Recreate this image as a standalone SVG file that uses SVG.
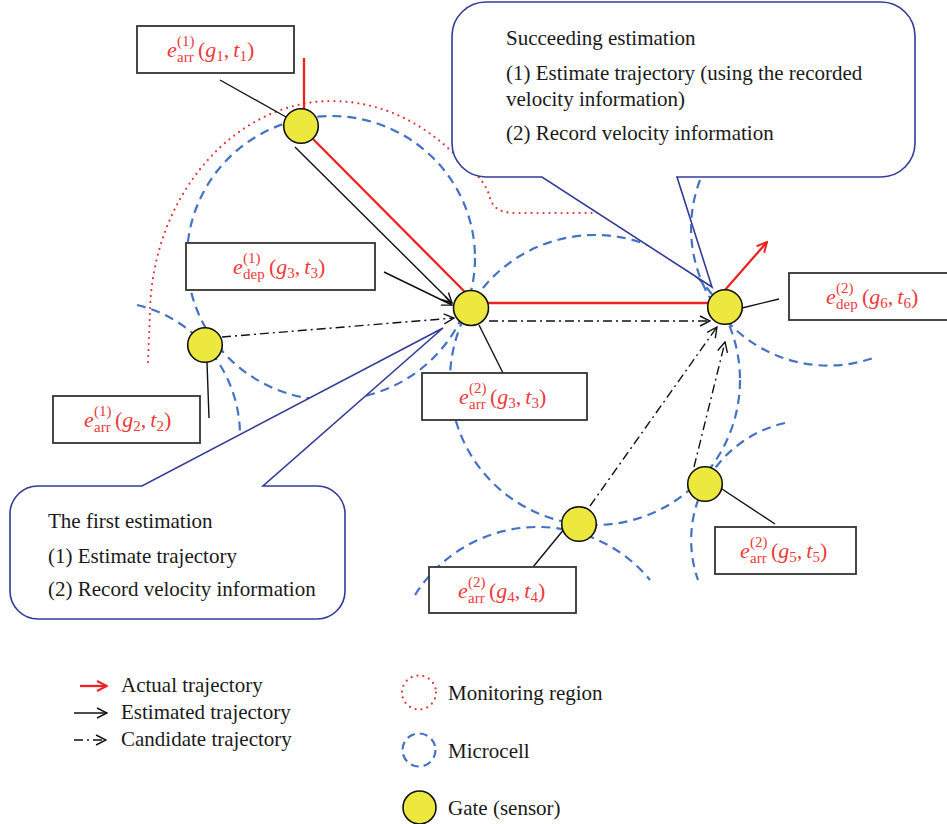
<svg xmlns="http://www.w3.org/2000/svg" width="947" height="824" viewBox="0 0 947 824">
<style>
  .txt { font-family: "Liberation Serif", "DejaVu Serif", serif; font-size: 21px; fill: #1a1a1a; }
  .lbl { font-family: "Liberation Serif", "DejaVu Serif", serif; font-size: 22px; fill: #ee3a3a; }
  .it { font-style: italic; }
  .sc { font-size: 15px; }
  .box { fill: #ffffff; stroke: #333333; stroke-width: 1.8; }
  .cell { fill: none; stroke: #4472c4; stroke-width: 2.2; stroke-dasharray: 9 6; }
  .mon { fill: none; stroke: #e03030; stroke-width: 2.2; stroke-dasharray: 0 6; stroke-linecap: round; }
  .callout { fill: #ffffff; stroke: #333b96; stroke-width: 1.6; stroke-linejoin: miter; }
  .act { fill: none; stroke: #ee2222; stroke-width: 2.3; }
  .est { fill: none; stroke: #111111; stroke-width: 1.4; }
  .cand { fill: none; stroke: #111111; stroke-width: 1.4; stroke-dasharray: 9 4 2 4; }
  .lead { fill: none; stroke: #111111; stroke-width: 1.4; }
  .gate { fill: #ece83e; stroke: #111111; stroke-width: 1.6; }
</style>
<defs>
  <marker id="ahR" viewBox="0 0 12 12" refX="11" refY="6" markerWidth="12" markerHeight="12" markerUnits="userSpaceOnUse" orient="auto">
    <path d="M1,1 L11,6 L1,11" fill="none" stroke="#ee2222" stroke-width="2" stroke-dasharray="none"/>
  </marker>
  <marker id="ahK" viewBox="0 0 12 12" refX="11" refY="6" markerWidth="12" markerHeight="12" markerUnits="userSpaceOnUse" orient="auto">
    <path d="M1,1 L11,6 L1,11" fill="none" stroke="#111111" stroke-width="1.4" stroke-dasharray="none"/>
  </marker>
</defs>
<rect x="0" y="0" width="947" height="824" fill="#ffffff"/>

<!-- regions: microcells and monitoring region -->
<g id="regions">
  <ellipse class="cell" cx="331" cy="258" rx="144" ry="142"/>
  <circle class="cell" cx="595" cy="380" r="145"/>
  <path class="cell" d="M785,423 A120,120 0 0 0 698,580"/>
  <path class="cell" d="M415,595 A145,145 0 0 1 650,580"/>
  <path class="cell" d="M137,305 A134,134 0 0 1 240,434"/>
  <path class="mon" d="M148,362 L150,312 C152,200 230,103 330,101 C380,101 420,122 450,150 C474,170 487,184 490,198 Q494,213 515,213 L598,213"/>
</g>

<!-- callouts -->
<g id="callout-succeeding">
  <path class="callout" d="M486,2 H881 A34,34 0 0 1 915,36 V143 A34,34 0 0 1 881,177 H677 L712,287 L542,177 H486 A34,34 0 0 1 452,143 V36 A34,34 0 0 1 486,2 Z"/>
  <text class="txt" x="506" y="45">Succeeding estimation</text>
  <text class="txt" x="506" y="80">(1) Estimate trajectory (using the recorded</text>
  <text class="txt" x="506" y="106">velocity information)</text>
  <text class="txt" x="506" y="140">(2) Record velocity information</text>
</g>
<g id="callout-first">
  <path class="callout" d="M38,486 H142 L443,328 L263,486 H317 A28,28 0 0 1 345,514 V591 A28,28 0 0 1 317,619 H38 A28,28 0 0 1 10,591 V514 A28,28 0 0 1 38,486 Z"/>
  <text class="txt" x="48" y="528">The first estimation</text>
  <text class="txt" x="48" y="563">(1) Estimate trajectory</text>
  <text class="txt" x="48" y="596">(2) Record velocity information</text>
</g>

<g id="region-top">
  <path class="cell" d="M700,180 A137,137 0 0 0 873,358"/>
</g>

<!-- connectors -->
<g id="connectors">
  <line class="act" x1="304" y1="58" x2="304" y2="110"/>
  <line class="act" x1="313" y1="139" x2="465" y2="292"/>
  <line class="act" x1="488" y1="303" x2="709" y2="303"/>
  <line class="act" x1="725" y1="290" x2="767" y2="242" marker-end="url(#ahR)"/>

  <line class="est" x1="295" y1="147" x2="452" y2="303" marker-end="url(#ahK)"/>
  <line class="est" x1="384" y1="272" x2="452" y2="305" marker-end="url(#ahK)"/>

  <line class="cand" x1="222" y1="337" x2="454" y2="318" marker-end="url(#ahK)"/>
  <line class="cand" x1="489" y1="321" x2="710" y2="321" marker-end="url(#ahK)"/>
  <line class="cand" x1="590" y1="506" x2="717" y2="327" marker-end="url(#ahK)"/>
  <line class="cand" x1="694" y1="467" x2="725" y2="342" marker-end="url(#ahK)"/>

  <line class="lead" x1="220" y1="80" x2="286" y2="117"/>
  <line class="lead" x1="207" y1="362" x2="209" y2="418"/>
  <line class="lead" x1="479" y1="325" x2="503" y2="373"/>
  <line class="lead" x1="565" y1="528" x2="533" y2="567"/>
  <line class="lead" x1="722" y1="489" x2="775" y2="524"/>
  <line class="lead" x1="742" y1="308" x2="779" y2="299"/>
</g>

<!-- gates -->
<g id="gate-g1"><circle class="gate" cx="301" cy="126" r="17.3"/></g>
<g id="gate-g2"><circle class="gate" cx="205" cy="345" r="17.3"/></g>
<g id="gate-g3"><circle class="gate" cx="471" cy="308" r="17.5"/></g>
<g id="gate-g4"><circle class="gate" cx="579" cy="524" r="17.3"/></g>
<g id="gate-g5"><circle class="gate" cx="705" cy="484" r="17.3"/></g>
<g id="gate-g6"><circle class="gate" cx="725" cy="307" r="17.3"/></g>

<!-- labels -->
<g id="label-arr1-g1">
  <rect class="box" x="137" y="26" width="157" height="47"/>
  <text class="lbl"><tspan class="it" x="167" y="57">e</tspan><tspan class="sc" x="177" y="46">(1)</tspan><tspan class="sc" x="177" y="62">arr</tspan><tspan x="198" y="57">(</tspan><tspan class="it">g</tspan><tspan class="sc" dy="4">1</tspan><tspan dy="-4">,</tspan><tspan class="it" dx="4">t</tspan><tspan class="sc" dy="4">1</tspan><tspan dy="-4">)</tspan></text>
</g>
<g id="label-dep1-g3">
  <rect class="box" x="186" y="243" width="189" height="47"/>
  <text class="lbl"><tspan class="it" x="233" y="274">e</tspan><tspan class="sc" x="243" y="263">(1)</tspan><tspan class="sc" x="243" y="279">dep</tspan><tspan x="269" y="274">(</tspan><tspan class="it">g</tspan><tspan class="sc" dy="4">3</tspan><tspan dy="-4">,</tspan><tspan class="it" dx="4">t</tspan><tspan class="sc" dy="4">3</tspan><tspan dy="-4">)</tspan></text>
</g>
<g id="label-arr1-g2">
  <rect class="box" x="53" y="396" width="147" height="47"/>
  <text class="lbl"><tspan class="it" x="84" y="427">e</tspan><tspan class="sc" x="94" y="416">(1)</tspan><tspan class="sc" x="94" y="432">arr</tspan><tspan x="115" y="427">(</tspan><tspan class="it">g</tspan><tspan class="sc" dy="4">2</tspan><tspan dy="-4">,</tspan><tspan class="it" dx="4">t</tspan><tspan class="sc" dy="4">2</tspan><tspan dy="-4">)</tspan></text>
</g>
<g id="label-arr2-g3">
  <rect class="box" x="422" y="373" width="165" height="47"/>
  <text class="lbl"><tspan class="it" x="459" y="404">e</tspan><tspan class="sc" x="469" y="393">(2)</tspan><tspan class="sc" x="469" y="409">arr</tspan><tspan x="490" y="404">(</tspan><tspan class="it">g</tspan><tspan class="sc" dy="4">3</tspan><tspan dy="-4">,</tspan><tspan class="it" dx="4">t</tspan><tspan class="sc" dy="4">3</tspan><tspan dy="-4">)</tspan></text>
</g>
<g id="label-arr2-g4">
  <rect class="box" x="429" y="567" width="147" height="46"/>
  <text class="lbl"><tspan class="it" x="458" y="598">e</tspan><tspan class="sc" x="468" y="587">(2)</tspan><tspan class="sc" x="468" y="603">arr</tspan><tspan x="489" y="598">(</tspan><tspan class="it">g</tspan><tspan class="sc" dy="4">4</tspan><tspan dy="-4">,</tspan><tspan class="it" dx="4">t</tspan><tspan class="sc" dy="4">4</tspan><tspan dy="-4">)</tspan></text>
</g>
<g id="label-arr2-g5">
  <rect class="box" x="715" y="527" width="141" height="47"/>
  <text class="lbl"><tspan class="it" x="740" y="558">e</tspan><tspan class="sc" x="750" y="547">(2)</tspan><tspan class="sc" x="750" y="563">arr</tspan><tspan x="771" y="558">(</tspan><tspan class="it">g</tspan><tspan class="sc" dy="4">5</tspan><tspan dy="-4">,</tspan><tspan class="it" dx="4">t</tspan><tspan class="sc" dy="4">5</tspan><tspan dy="-4">)</tspan></text>
</g>
<g id="label-dep2-g6">
  <rect class="box" x="789" y="273" width="170" height="47"/>
  <text class="lbl"><tspan class="it" x="826" y="304">e</tspan><tspan class="sc" x="836" y="293">(2)</tspan><tspan class="sc" x="836" y="309">dep</tspan><tspan x="862" y="304">(</tspan><tspan class="it">g</tspan><tspan class="sc" dy="4">6</tspan><tspan dy="-4">,</tspan><tspan class="it" dx="4">t</tspan><tspan class="sc" dy="4">6</tspan><tspan dy="-4">)</tspan></text>
</g>

<!-- legend -->
<g id="legend">
  <line class="act" x1="80" y1="686" x2="107" y2="686" marker-end="url(#ahR)"/>
  <text class="txt" x="121" y="692">Actual trajectory</text>
  <line class="est" x1="74" y1="713" x2="107" y2="713" marker-end="url(#ahK)"/>
  <text class="txt" x="121" y="719">Estimated trajectory</text>
  <line class="cand" x1="74" y1="740" x2="106" y2="740" marker-end="url(#ahK)"/>
  <text class="txt" x="121" y="746">Candidate trajectory</text>

  <circle class="mon" cx="419" cy="692.5" r="17"/>
  <text class="txt" x="448" y="700">Monitoring region</text>
  <circle class="cell" cx="419" cy="750" r="16.5" style="stroke-dasharray: 8 5"/>
  <text class="txt" x="448" y="758">Microcell</text>
  <circle class="gate" cx="419.5" cy="807.5" r="16.5"/>
  <text class="txt" x="448" y="815">Gate (sensor)</text>
</g>
</svg>
